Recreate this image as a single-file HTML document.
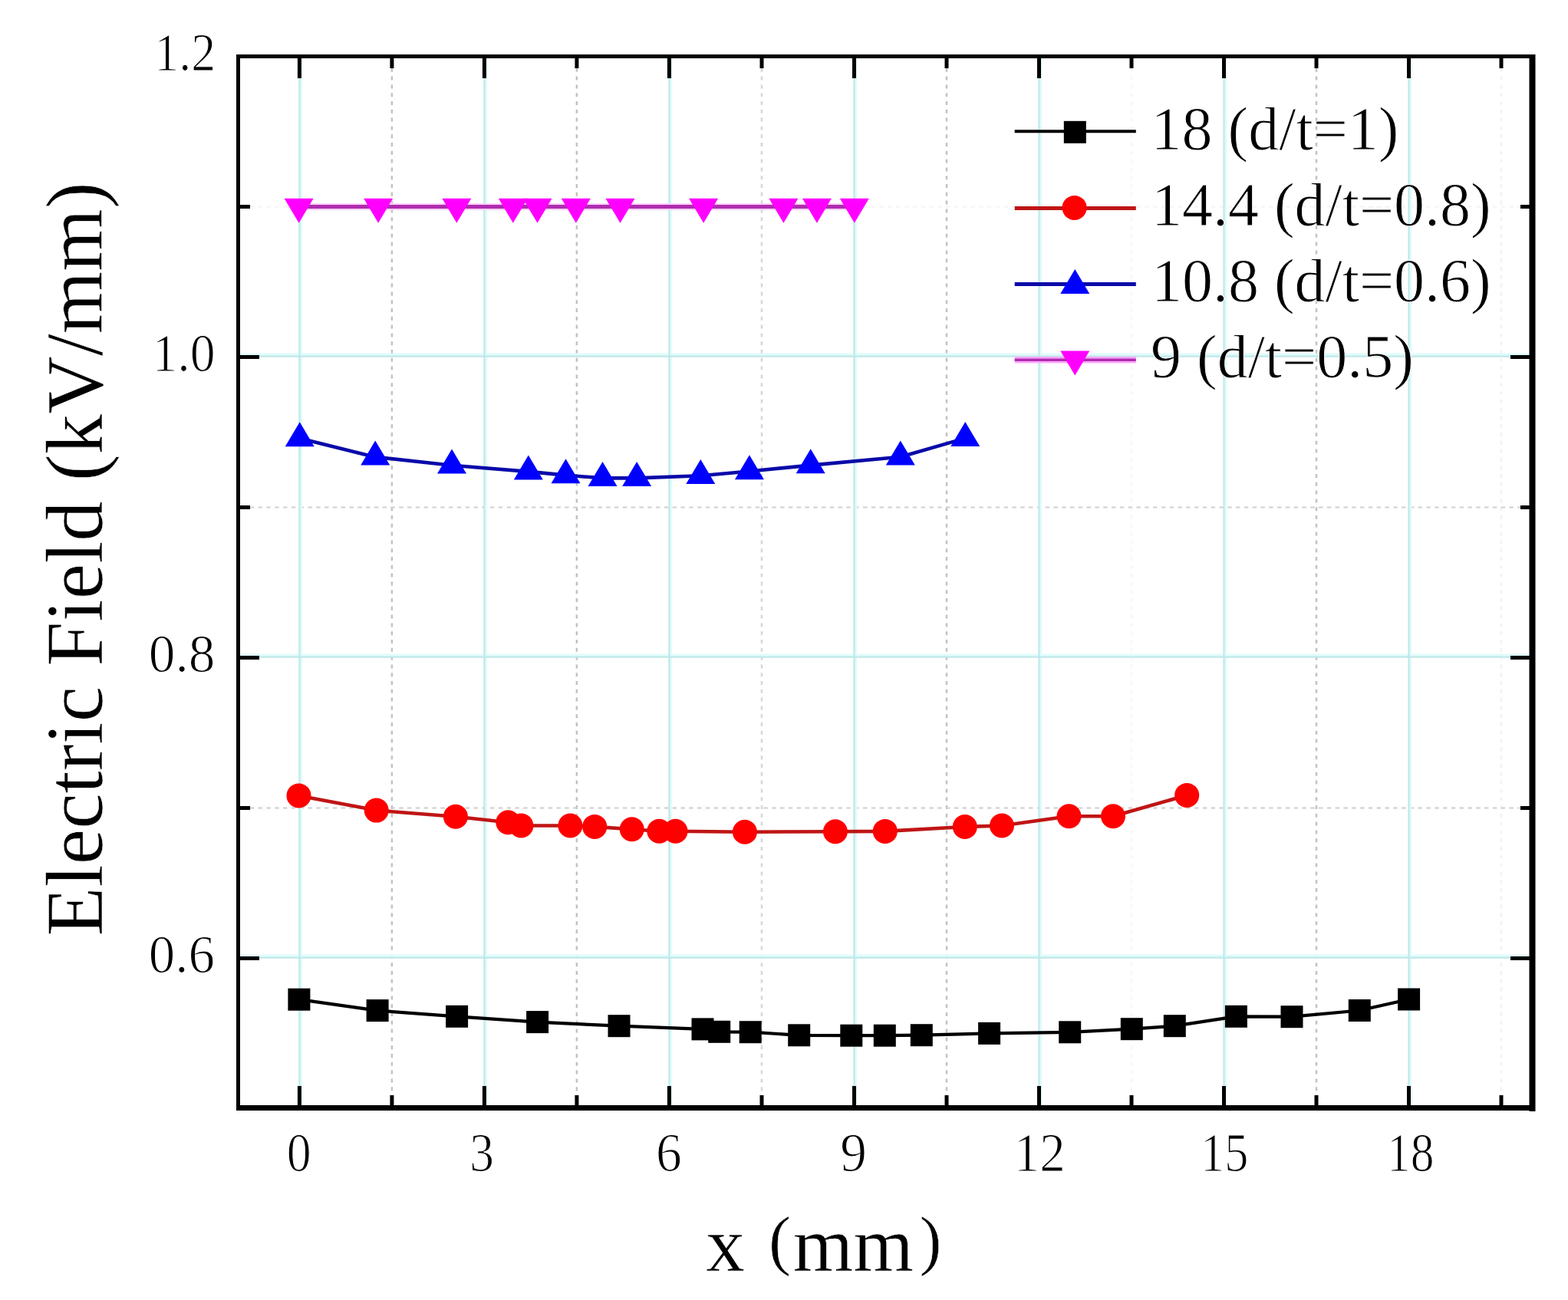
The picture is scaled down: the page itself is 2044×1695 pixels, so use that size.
<!DOCTYPE html><html><head><meta charset="utf-8"><title>Electric Field vs x</title><style>html,body{margin:0;padding:0;background:#fff;width:2044px;height:1695px;overflow:hidden;}svg{display:block}text{font-family:"Liberation Serif","Times New Roman",serif;fill:#000;stroke:#fff;stroke-width:1.2px}</style></head><body>
<svg width="2044" height="1695" viewBox="0 0 2044 1695">
<rect width="2044" height="1695" fill="#fff"/>
<path d="M510.9 78V1441" stroke="#c2c2c2" stroke-width="2.5" stroke-dasharray="5 5.8" fill="none"/>
<path d="M751.9 78V1441" stroke="#c2c2c2" stroke-width="2.5" stroke-dasharray="5 5.8" fill="none"/>
<path d="M993.0 78V1441" stroke="#d6d6d6" stroke-width="2.5" stroke-dasharray="5 5.8" fill="none"/>
<path d="M1234.0 78V1441" stroke="#c2c2c2" stroke-width="2.5" stroke-dasharray="5 5.8" fill="none"/>
<path d="M1475.0 78V1441" stroke="#f7f7f7" stroke-width="2.5" stroke-dasharray="5 5.8" fill="none"/>
<path d="M1716.0 78V1441" stroke="#c2c2c2" stroke-width="2.5" stroke-dasharray="5 5.8" fill="none"/>
<path d="M1957.0 78V1441" stroke="#f2f2f2" stroke-width="2.5" stroke-dasharray="5 5.8" fill="none"/>
<path d="M315 1053.5H1993" stroke="#cdcdcd" stroke-width="2" stroke-dasharray="5.5 5.3" fill="none"/>
<path d="M315 661.5H1993" stroke="#d0d0d0" stroke-width="2" stroke-dasharray="5.5 5.3" fill="none"/>
<path d="M315 269.5H1993" stroke="#f3f3f3" stroke-width="2" stroke-dasharray="5.5 5.3" fill="none"/>
<path d="M392.6 76V1441 M633.6 76V1441 M874.6 76V1441 M1115.7 76V1441 M1356.7 76V1441 M1597.7 76V1441 M1838.7 76V1441 M313 1246.1H1993 M313 854.1H1993 M313 462.1H1993" stroke="#e0fcfc" stroke-width="3.2" fill="none"/>
<path d="M390.4 76V1441 M631.4 76V1441 M872.4 76V1441 M1113.5 76V1441 M1354.5 76V1441 M1595.5 76V1441 M1836.5 76V1441 M313 1248.7H1993 M313 856.7H1993 M313 464.7H1993" stroke="#c0e8e8" stroke-width="2.2" fill="none"/>
<path d="M390.4 76v26M390.4 1441v-25M510.9 76v13M510.9 1441v-13M631.4 76v26M631.4 1441v-25M751.9 76v13M751.9 1441v-13M872.4 76v26M872.4 1441v-25M993.0 76v13M993.0 1441v-13M1113.5 76v26M1113.5 1441v-25M1234.0 76v13M1234.0 1441v-13M1354.5 76v26M1354.5 1441v-25M1475.0 76v13M1475.0 1441v-13M1595.5 76v26M1595.5 1441v-25M1716.0 76v13M1716.0 1441v-13M1836.5 76v26M1836.5 1441v-25M1957.0 76v13M1957.0 1441v-13M313 1249.5h25M1994 1249.5h-25M313 857.5h25M1994 857.5h-25M313 465.5h25M1994 465.5h-25M313 1053.5h13M1994 1053.5h-12M313 661.5h13M1994 661.5h-12M313 269.5h13M1994 269.5h-12" stroke="#000" stroke-width="5" fill="none"/>
<polyline points="389.9,1303.2 492.1,1317.6 595.6,1325.3 700.6,1332.6 807.0,1337.7 916.0,1341.9 937.7,1345.3 978.2,1345.7 1041.7,1349.8 1109.8,1350.2 1153.3,1350.2 1201.3,1349.7 1289.6,1347.4 1394.7,1345.8 1475.3,1341.7 1531.3,1337.7 1611.4,1325.3 1684.0,1325.7 1772.3,1317.5 1836.6,1303.0" stroke="#000" stroke-width="4.2" fill="none" stroke-linejoin="round"/>
<rect x="375.4" y="1288.7" width="29" height="29" fill="#000"/><rect x="477.6" y="1303.1" width="29" height="29" fill="#000"/><rect x="581.1" y="1310.8" width="29" height="29" fill="#000"/><rect x="686.1" y="1318.1" width="29" height="29" fill="#000"/><rect x="792.5" y="1323.2" width="29" height="29" fill="#000"/><rect x="901.5" y="1327.4" width="29" height="29" fill="#000"/><rect x="923.2" y="1330.8" width="29" height="29" fill="#000"/><rect x="963.7" y="1331.2" width="29" height="29" fill="#000"/><rect x="1027.2" y="1335.3" width="29" height="29" fill="#000"/><rect x="1095.3" y="1335.7" width="29" height="29" fill="#000"/><rect x="1138.8" y="1335.7" width="29" height="29" fill="#000"/><rect x="1186.8" y="1335.2" width="29" height="29" fill="#000"/><rect x="1275.1" y="1332.9" width="29" height="29" fill="#000"/><rect x="1380.2" y="1331.3" width="29" height="29" fill="#000"/><rect x="1460.8" y="1327.2" width="29" height="29" fill="#000"/><rect x="1516.8" y="1323.2" width="29" height="29" fill="#000"/><rect x="1596.9" y="1310.8" width="29" height="29" fill="#000"/><rect x="1669.5" y="1311.2" width="29" height="29" fill="#000"/><rect x="1757.8" y="1303.0" width="29" height="29" fill="#000"/><rect x="1822.1" y="1288.5" width="29" height="29" fill="#000"/>
<polyline points="389.5,1037.4 490.7,1056.6 593.9,1064.8 662.3,1072.2 679.4,1076.5 743.4,1076.5 775.2,1077.9 823.7,1081.3 859.3,1083.8 880.5,1083.8 970.9,1084.8 1088.9,1084.2 1153.8,1083.9 1257.8,1078.0 1306.0,1076.5 1393.5,1064.3 1451.0,1064.3 1547.2,1036.9" stroke="#bf1515" stroke-width="4.6" fill="none" stroke-linejoin="round"/>
<circle cx="389.5" cy="1037.4" r="16" fill="#ff0000"/><circle cx="490.7" cy="1056.6" r="16" fill="#ff0000"/><circle cx="593.9" cy="1064.8" r="16" fill="#ff0000"/><circle cx="662.3" cy="1072.2" r="16" fill="#ff0000"/><circle cx="679.4" cy="1076.5" r="16" fill="#ff0000"/><circle cx="743.4" cy="1076.5" r="16" fill="#ff0000"/><circle cx="775.2" cy="1077.9" r="16" fill="#ff0000"/><circle cx="823.7" cy="1081.3" r="16" fill="#ff0000"/><circle cx="859.3" cy="1083.8" r="16" fill="#ff0000"/><circle cx="880.5" cy="1083.8" r="16" fill="#ff0000"/><circle cx="970.9" cy="1084.8" r="16" fill="#ff0000"/><circle cx="1088.9" cy="1084.2" r="16" fill="#ff0000"/><circle cx="1153.8" cy="1083.9" r="16" fill="#ff0000"/><circle cx="1257.8" cy="1078.0" r="16" fill="#ff0000"/><circle cx="1306.0" cy="1076.5" r="16" fill="#ff0000"/><circle cx="1393.5" cy="1064.3" r="16" fill="#ff0000"/><circle cx="1451.0" cy="1064.3" r="16" fill="#ff0000"/><circle cx="1547.2" cy="1036.9" r="16" fill="#ff0000"/>
<polyline points="390.7,571.5 489.2,595.9 589.0,606.7 688.8,614.9 737.5,619.6 785.5,623.4 830.1,623.4 913.3,620.2 976.9,614.5 1056.7,606.6 1173.8,595.7 1258.3,571.4" stroke="#0a0aa8" stroke-width="4.6" fill="none" stroke-linejoin="round"/>
<path d="M390.7 550.2L409.7 582.2H371.7Z" fill="#0000ff"/><path d="M489.2 574.6L508.2 606.6H470.2Z" fill="#0000ff"/><path d="M589.0 585.4L608.0 617.4H570.0Z" fill="#0000ff"/><path d="M688.8 593.6L707.8 625.6H669.8Z" fill="#0000ff"/><path d="M737.5 598.3L756.5 630.3H718.5Z" fill="#0000ff"/><path d="M785.5 602.1L804.5 634.1H766.5Z" fill="#0000ff"/><path d="M830.1 602.1L849.1 634.1H811.1Z" fill="#0000ff"/><path d="M913.3 598.9L932.3 630.9H894.3Z" fill="#0000ff"/><path d="M976.9 593.2L995.9 625.2H957.9Z" fill="#0000ff"/><path d="M1056.7 585.3L1075.7 617.3H1037.7Z" fill="#0000ff"/><path d="M1173.8 574.4L1192.8 606.4H1154.8Z" fill="#0000ff"/><path d="M1258.3 550.1L1277.3 582.1H1239.3Z" fill="#0000ff"/>
<polyline points="389.6,269.5 493.1,269.5 595.3,269.5 668.8,269.5 700.5,269.5 750.8,269.5 808.5,269.5 917.1,269.5 1021.4,269.5 1064.9,269.5 1113.8,269.5" stroke="#ffd0ff" stroke-width="9" fill="none" stroke-linejoin="round"/>
<polyline points="389.6,269.5 493.1,269.5 595.3,269.5 668.8,269.5 700.5,269.5 750.8,269.5 808.5,269.5 917.1,269.5 1021.4,269.5 1064.9,269.5 1113.8,269.5" stroke="#af2daf" stroke-width="5" fill="none" stroke-linejoin="round"/>
<path d="M389.6 290.8L408.6 258.8H370.6Z" fill="#ff00ff"/><path d="M493.1 290.8L512.1 258.8H474.1Z" fill="#ff00ff"/><path d="M595.3 290.8L614.3 258.8H576.3Z" fill="#ff00ff"/><path d="M668.8 290.8L687.8 258.8H649.8Z" fill="#ff00ff"/><path d="M700.5 290.8L719.5 258.8H681.5Z" fill="#ff00ff"/><path d="M750.8 290.8L769.8 258.8H731.8Z" fill="#ff00ff"/><path d="M808.5 290.8L827.5 258.8H789.5Z" fill="#ff00ff"/><path d="M917.1 290.8L936.1 258.8H898.1Z" fill="#ff00ff"/><path d="M1021.4 290.8L1040.4 258.8H1002.4Z" fill="#ff00ff"/><path d="M1064.9 290.8L1083.9 258.8H1045.9Z" fill="#ff00ff"/><path d="M1113.8 290.8L1132.8 258.8H1094.8Z" fill="#ff00ff"/>
<path d="M1322.7 171.2H1480.8" stroke="#000" stroke-width="4"/><rect x="1386.8" y="157.8" width="29" height="29" fill="#000"/>
<path d="M1322.7 271.6H1480.8" stroke="#bf1515" stroke-width="5"/><circle cx="1400.6" cy="270.9" r="16" fill="#ff0000"/>
<path d="M1322.7 370.6H1480.8" stroke="#0a0aa8" stroke-width="5"/><path d="M1401.3 350.9L1420.3 382.9H1382.3Z" fill="#0000ff"/>
<path d="M1322.7 469.3H1480.8" stroke="#ffa8ff" stroke-width="8.5"/><path d="M1322.7 469.3H1480.8" stroke="#af2daf" stroke-width="3.6"/><path d="M1401.3 489.4L1420.3 457.4H1382.3Z" fill="#ff00ff"/>
<text x="1500.6" y="195.4" font-size="80" style="stroke-width:0.9px">18 (d/t=1)</text>
<text x="1500.9" y="294.2" font-size="80" style="stroke-width:0.9px">14.4 (d/t=0.8)</text>
<text x="1500.9" y="393.0" font-size="80" style="stroke-width:0.9px">10.8 (d/t=0.6)</text>
<text x="1500.0" y="492.2" font-size="80" style="stroke-width:0.9px">9 (d/t=0.5)</text>
<path d="M310.5 71V1448" stroke="#000" stroke-width="5"/>
<path d="M308 73.5H2001" stroke="#000" stroke-width="5"/>
<path d="M1997.5 71V1449" stroke="#000" stroke-width="8"/>
<path d="M308 1444.5H2001" stroke="#000" stroke-width="7"/>
<text transform="translate(373.7 1527) scale(0.885 1)" font-size="72">0</text>
<text transform="translate(612.2 1527) scale(0.881 1)" font-size="72">3</text>
<text transform="translate(854.9 1527) scale(0.936 1)" font-size="72">6</text>
<text transform="translate(1095.3 1527) scale(0.963 1)" font-size="72">9</text>
<text transform="translate(1321.8 1527) scale(0.932 1)" font-size="72">12</text>
<text transform="translate(1565.0 1527) scale(0.865 1)" font-size="72">15</text>
<text transform="translate(1808.0 1527) scale(0.853 1)" font-size="72">18</text>
<text transform="translate(201.3 92.2) scale(0.912 1)" font-size="70">1.2</text>
<text transform="translate(198.4 484.2) scale(0.939 1)" font-size="70">1.0</text>
<text transform="translate(193.8 876.2) scale(0.991 1)" font-size="70">0.8</text>
<text transform="translate(193.8 1268.2) scale(0.984 1)" font-size="70">0.6</text>
<text y="1656.7" font-size="101" style="stroke-width:0.6px"><tspan x="920.2">x </tspan><tspan x="1001.9" y="1646.3" font-size="87">(</tspan><tspan x="1033.7" y="1656.7">mm</tspan><tspan x="1198.5" y="1646.3" font-size="87">)</tspan></text>
<text transform="translate(132.5 1220.4) rotate(-90) scale(0.988 1)" font-size="106" style="stroke-width:0.6px">Electric Field (kV/mm)</text>
</svg></body></html>
